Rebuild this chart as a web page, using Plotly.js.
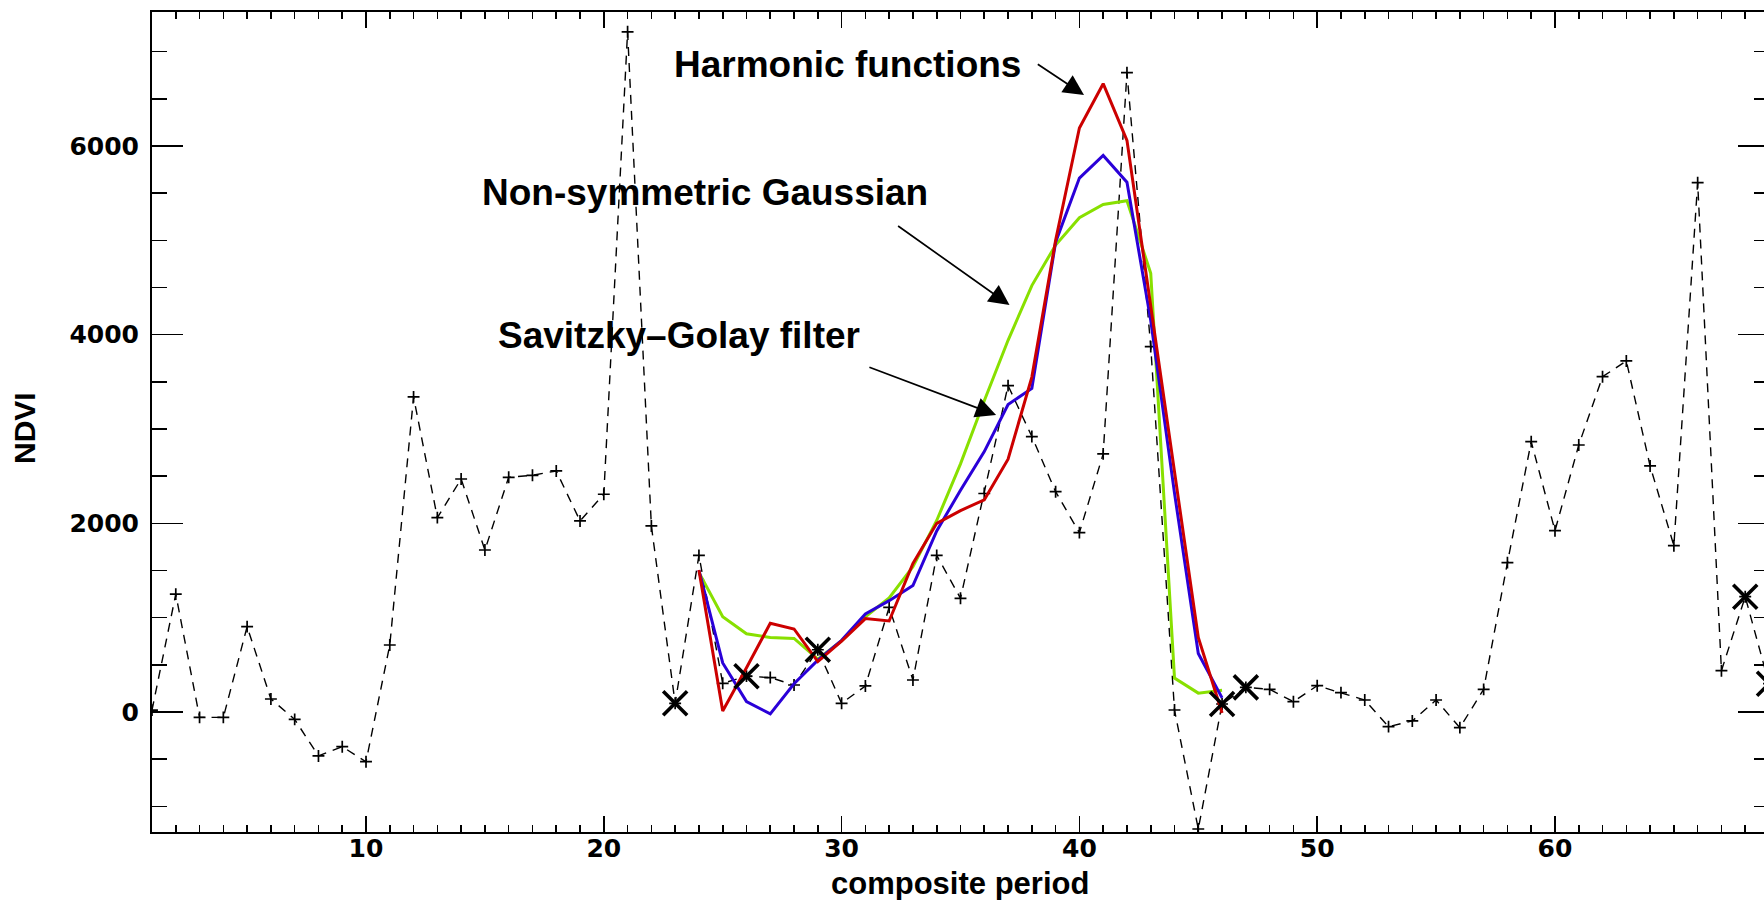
<!DOCTYPE html>
<html>
<head>
<meta charset="utf-8">
<script src="https://cdn.plot.ly/plotly-3.0.1.min.js"></script>
<style>
html,body{margin:0;padding:0;overflow:hidden;background:#ffffff;}
#chart{width:1772px;height:900px;}
</style>
</head>
<body>
<div id="chart"></div>
<script>
// ---- data ----
const periods = [1,2,3,4,5,6,7,8,9,10,11,12,13,14,15,16,17,18,19,20,21,22,23,24,25,26,27,28,29,30,
  31,32,33,34,35,36,37,38,39,40,41,42,43,44,45,46,47,48,49,50,51,52,53,54,55,56,57,58,59,60,
  61,62,63,64,65,66,67,68,69];
const ndvi = [20,1250,-57,-57,905,138,-78,-466,-368,-527,710,3340,2060,2470,1717,2488,2509,2555,2025,2308,
  7210,1972,92,1660,304,380,365,286,660,92,276,1110,339,1660,1205,2316,3460,2920,2335,1901,
  2736,6777,3873,21,-1240,85,261,240,109,279,205,127,-155,-95,127,-166,240,1583,2866,1922,
  2830,3554,3721,2608,1763,5611,438,1222,300];
const seasonMarkPeriods = [23,26,29,46,47,68,69];

const fitPeriods = [24,25,26,27,28,29,30,31,32,33,34,35,36,37,38,39,40,41,42,43,44,45,46];
const asymGaussian = [1480,1010,830,790,780,560,755,1010,1210,1540,2030,2630,3300,3940,4520,4950,5240,5380,5420,4650,360,200,230];
const savitzkyGolay = [1505,520,110,-20,300,550,760,1040,1180,1340,1920,2350,2760,3260,3430,4980,5660,5900,5615,4150,2320,620,150];
const harmonic = [1505,10,470,940,880,535,750,990,965,1575,2000,2135,2250,2680,3550,5000,6190,6660,6060,4300,2530,790,-10];

const xTickValues = [10,20,30,40,50,60];
const yTickValues = [0,2000,4000,6000];

const xTitle = 'composite period';
const yTitle = 'NDVI';
const labelHarmonic = 'Harmonic functions';
const labelGaussian = 'Non-symmetric Gaussian';
const labelSG = 'Savitzky\u2013Golay filter';

// ---- geometry helpers (pixels -> paper) ----
const L = 152, R = 1769, T = 12, B = 832;
const px = p => (p - L) / (R - L);
const py = p => (B - p) / (B - T);

const FONT = '"Liberation Sans", Arial, Helvetica, sans-serif';
const TICKFONT = '"DejaVu Sans", "Liberation Sans", Arial, sans-serif';

const seasonY = seasonMarkPeriods.map(p => ndvi[periods.indexOf(p)]);

const traces = [
  {
    x: periods, y: ndvi, type: 'scatter', mode: 'lines+markers',
    line: {color: '#000000', width: 1.4, dash: '9px,7px'},
    marker: {symbol: 'cross-thin-open', size: 8.5, line: {color: '#000000', width: 1.7}, color: '#000000'},
    hoverinfo: 'skip', showlegend: false
  },
  {
    x: fitPeriods, y: asymGaussian, type: 'scatter', mode: 'lines',
    line: {color: '#88e000', width: 3}, showlegend: false
  },
  {
    x: fitPeriods, y: savitzkyGolay, type: 'scatter', mode: 'lines',
    line: {color: '#2a00d8', width: 3}, showlegend: false
  },
  {
    x: fitPeriods, y: harmonic, type: 'scatter', mode: 'lines',
    line: {color: '#cc0000', width: 3}, showlegend: false
  },
  {
    x: seasonMarkPeriods, y: seasonY, type: 'scatter', mode: 'markers',
    marker: {symbol: 'x-thin-open', size: 24, line: {color: '#000000', width: 3.6}, color: '#000000'},
    cliponaxis: false, showlegend: false
  }
];

const axisCommon = {
  showgrid: false, zeroline: false,
  showline: true, linecolor: '#000000', linewidth: 2,
  mirror: 'allticks', ticks: 'inside', tickcolor: '#000000', tickwidth: 1.6,
  tickfont: {family: TICKFONT, size: 25, color: '#000000', weight: 'bold'},
  tickmode: 'array'
};

const layout = {
  width: 1772, height: 900,
  margin: {l: L, r: 1772 - R, t: T, b: 900 - B, pad: 0},
  paper_bgcolor: '#ffffff', plot_bgcolor: '#ffffff',
  showlegend: false,
  xaxis: Object.assign({}, axisCommon, {
    range: [1, 69], tickvals: xTickValues, ticktext: xTickValues.map(String),
    ticklen: 16,
    minor: {ticks: 'inside', tickmode: 'linear', tick0: 0, dtick: 1, ticklen: 7, tickcolor: '#000000', tickwidth: 1.6},
    ticklabelstandoff: -7
  }),
  yaxis: Object.assign({}, axisCommon, {
    range: [-1272, 7420], tickvals: yTickValues, ticktext: yTickValues.map(String),
    ticklen: 31,
    minor: {ticks: 'inside', tickmode: 'linear', tick0: 0, dtick: 500, ticklen: 15, tickcolor: '#000000', tickwidth: 1.6},
    ticklabelstandoff: 6
  }),
  annotations: [
    {xref: 'paper', yref: 'paper', x: px(959.5), y: py(883), text: xTitle, showarrow: false,
     xanchor: 'center', yanchor: 'middle', font: {family: FONT, size: 31, color: '#000', weight: 'bold'}},
    {xref: 'paper', yref: 'paper', x: px(24), y: py(428), text: yTitle, showarrow: false, textangle: -90,
     xanchor: 'center', yanchor: 'middle', font: {family: FONT, size: 30, color: '#000', weight: 'bold'}},
    {xref: 'paper', yref: 'paper', x: px(672), y: py(64.5), text: labelHarmonic, showarrow: false,
     xanchor: 'left', yanchor: 'middle', font: {family: FONT, size: 37, color: '#000', weight: 'bold'}},
    {xref: 'paper', yref: 'paper', x: px(480), y: py(192.5), text: labelGaussian, showarrow: false,
     xanchor: 'left', yanchor: 'middle', font: {family: FONT, size: 37, color: '#000', weight: 'bold'}},
    {xref: 'paper', yref: 'paper', x: px(496), y: py(335), text: labelSG, showarrow: false,
     xanchor: 'left', yanchor: 'middle', font: {family: FONT, size: 37, color: '#000', weight: 'bold'}},
    {xref: 'paper', yref: 'paper', x: px(1084), y: py(95), ax: 1036.3 - 1084, ay: 63.3 - 95, text: '',
     showarrow: true, arrowhead: 2, arrowsize: 2.4, arrowwidth: 1.7, arrowcolor: '#000', standoff: 0},
    {xref: 'paper', yref: 'paper', x: px(1009.5), y: py(305), ax: 896.6 - 1009.5, ay: 225 - 305, text: '',
     showarrow: true, arrowhead: 2, arrowsize: 2.4, arrowwidth: 1.7, arrowcolor: '#000', standoff: 0},
    {xref: 'paper', yref: 'paper', x: px(996.1), y: py(415), ax: 867.9 - 996.1, ay: 366.7 - 415, text: '',
     showarrow: true, arrowhead: 2, arrowsize: 2.4, arrowwidth: 1.7, arrowcolor: '#000', standoff: 0}
  ]
};

Plotly.newPlot('chart', traces, layout, {displayModeBar: false, staticPlot: true});
</script>
</body>
</html>
